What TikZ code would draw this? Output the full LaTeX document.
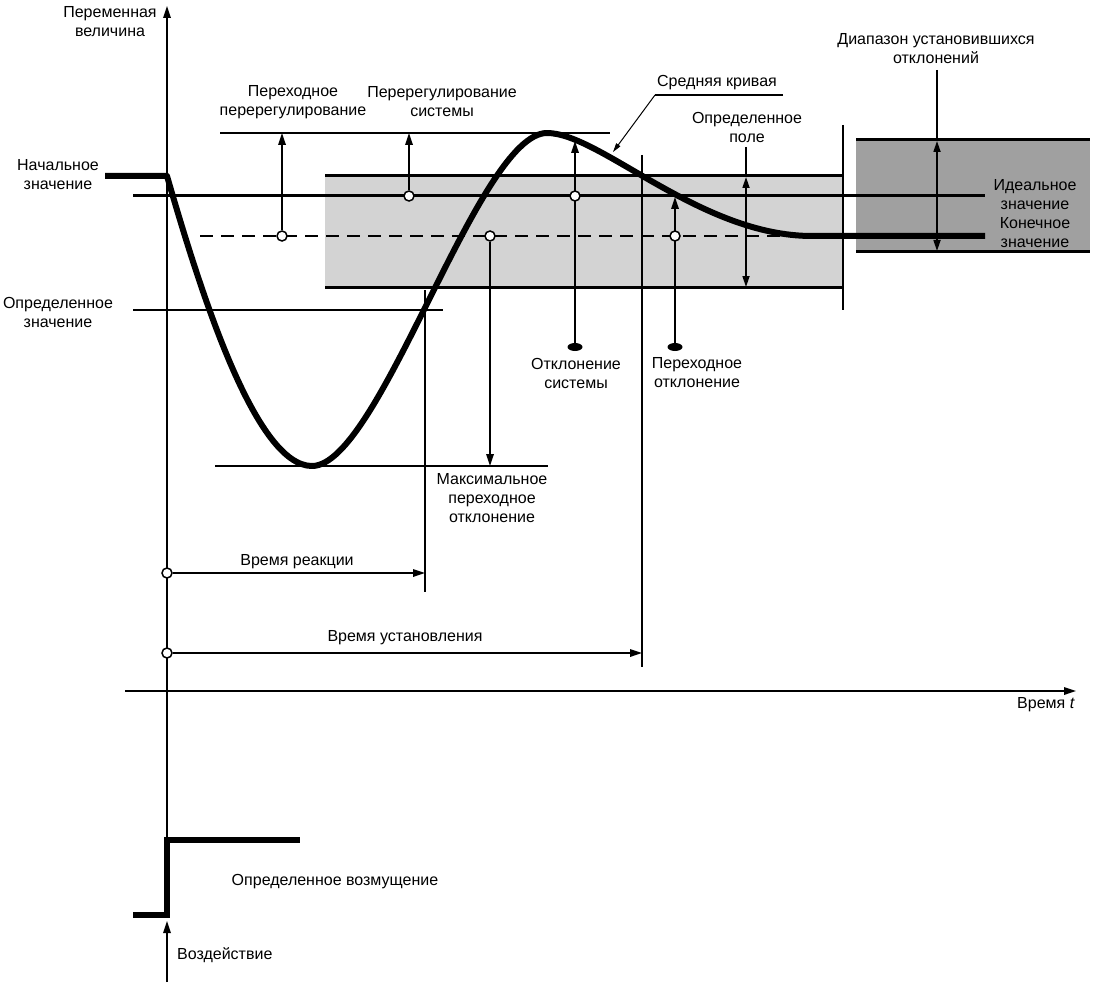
\documentclass[tikz,border=0pt]{standalone}
\usepackage{fontspec}
\setmainfont{Liberation Sans}
\usetikzlibrary{arrows.meta,shapes.geometric}
\definecolor{lightband}{RGB}{211,211,211}
\definecolor{darkband}{RGB}{160,160,160}
\begin{document}
\begin{tikzpicture}[x=1pt,y=-1pt,
  thinline/.style={line width=1.7pt},
  midline/.style={line width=3pt},
  thickcurve/.style={line width=6pt},
  tipped/.style={-{Triangle[length=12pt,width=7.5pt]}},
  lbl/.style={font=\fontsize{16}{19}\selectfont, align=center, inner sep=0pt},
  ocirc/.style={circle, draw, fill=white, line width=1.5pt, minimum size=10pt, inner sep=0pt},
  fdot/.style={ellipse, fill=black, minimum width=15pt, minimum height=8pt, inner sep=0pt},
]
\useasboundingbox (0,0) rectangle (1094,984);

% bands
\fill[lightband] (325,176) rectangle (843,287);
\draw[midline] (325,176) -- (843,176);
\draw[midline] (325,287) -- (843,287);
\fill[darkband] (856,140) rectangle (1090,252);
\draw[midline] (856,140) -- (1090,140);
\draw[midline] (856,252) -- (1090,252);

% axes
\coordinate (ytop) at (167,6);
\coordinate (ybot) at (167,840);
\draw[thinline, tipped] (ybot) -- (ytop);
\coordinate (xl) at (125,691);
\coordinate (xr) at (1076,691);
\draw[thinline, tipped] (xl) -- (xr);

% reference lines
\draw[midline] (133,196) -- (985,196);
\draw[thinline, dash pattern=on 13pt off 8pt] (200,236) -- (805,236);
\draw[thinline] (133,310) -- (443,310);
\draw[thinline] (215,466) -- (548,466);
\draw[thinline] (220,133) -- (610,133);
\draw[thinline] (425,290) -- (425,592);
\draw[thinline] (642,155) -- (642,667);
\draw[thinline] (843,125) -- (843,310);

% response curve
\draw[thickcurve, line join=round] (105,176) -- (167,176)
  .. controls (200,290) and (255,466) .. (312,466)
  .. controls (380,466) and (478,133) .. (547,133)
  .. controls (600,133) and (700,236) .. (812,236)
  -- (985,236);

% disturbance step
\draw[line width=6pt, line join=miter] (133,915) -- (167,915) -- (167,840) -- (300,840);

% labels
\node[lbl] (lvar) at (110,22) {Переменная\\величина};
\node[lbl] (linit) at (58,175) {Начальное\\значение};
\node[lbl] (ldefv) at (58,312) {Определенное\\значение};
\node[lbl] (ltov) at (293,102) {Переходное\\перерегулирование};
\node[lbl] (lsov) at (442,102) {Перерегулирование\\системы};
\node[lbl, anchor=base] (lmean) at (717,87) {Средняя кривая};
\node[lbl] (lfield) at (747,127) {Определенное\\поле};
\node[lbl] (lrange) at (936,49) {Диапазон установившихся\\отклонений};
\node[lbl] (lideal) at (1035,195) {Идеальное\\значение};
\node[lbl] (lfinal) at (1035,233) {Конечное\\значение};
\node[lbl] (lsdev) at (576,373) {Отклонение\\системы};
\node[lbl] (ltdev) at (697,373) {Переходное\\отклонение};
\node[lbl] (lmax) at (492,498) {Максимальное\\переходное\\отклонение};
\node[lbl] (lreact) at (297,562) {Время реакции};
\node[lbl] (lsettle) at (405,638) {Время установления};
\node[lbl, anchor=east] (ltime) at (1075,705) {Время \textit{t}};
\node[lbl] (ldist) at (335,882) {Определенное возмущение};
\node[lbl, anchor=west] (lact) at (177,955) {Воздействие};

% time arrows
\node[ocirc] (r0) at (167,573) {};
\coordinate (r1) at (425,573);
\draw[thinline, tipped] (r0) -- (r1);
\node[ocirc] (s0) at (167,653) {};
\coordinate (s1) at (642,653);
\draw[thinline, tipped] (s0) -- (s1);

% overshoot arrows
\node[ocirc] (to0) at (282,236) {};
\coordinate (to1) at (282,133);
\draw[thinline, tipped] (to0) -- (to1);
\node[ocirc] (so0) at (409,196) {};
\coordinate (so1) at (409,133);
\draw[thinline, tipped] (so0) -- (so1);
\node[ocirc] (mx0) at (490,236) {};
\coordinate (mx1) at (490,466);
\draw[thinline, tipped] (mx0) -- (mx1);

% deviation arrows
\node[fdot] (sd0) at (575,347) {};
\coordinate (sd1) at (575,141);
\draw[thinline, tipped] (sd0) -- (sd1);
\node[ocirc] (sdc) at (575,196) {};
\node[fdot] (td0) at (675,347) {};
\coordinate (td1) at (675,197);
\draw[thinline, tipped] (td0) -- (td1);
\node[ocirc] (tdc) at (675,236) {};

% field arrows
\coordinate (f0) at (746,147);
\coordinate (f1) at (746,177);
\coordinate (f2) at (746,287);
\draw[thinline] (f0) -- (f1);
\draw[thinline, {Triangle[length=11pt,width=7pt]}-{Triangle[length=11pt,width=7pt]}] (f1) -- (f2);
\coordinate (g0) at (937,70);
\coordinate (g1) at (937,141);
\coordinate (g2) at (937,251);
\draw[thinline] (g0) -- (g1);
\draw[thinline, {Triangle[length=11pt,width=7pt]}-{Triangle[length=11pt,width=7pt]}] (g1) -- (g2);

% leader for mean curve
\coordinate (m0) at (783,95);
\coordinate (m1) at (655,95);
\coordinate (m2) at (613,152);
\draw[thinline] (m0) -- (m1);
\draw[line width=1pt, -{Triangle[length=9pt,width=5pt]}] (m1) -- (m2);

% action arrow
\coordinate (a0) at (167,982);
\coordinate (a1) at (167,921);
\draw[thinline, tipped] (a0) -- (a1);
\end{tikzpicture}
\end{document}
